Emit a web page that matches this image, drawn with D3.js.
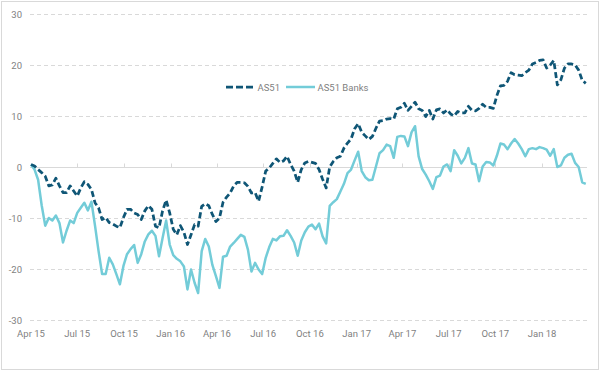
<!DOCTYPE html>
<html><head><meta charset="utf-8">
<script src="https://cdn.jsdelivr.net/npm/d3@7"></script>
<style>
html,body{margin:0;padding:0;background:#fff;}
svg{display:block;font-family:Roboto,"Liberation Sans",sans-serif;}
</style></head>
<body>
<svg id="chart" width="600" height="371"></svg>
<script>
// weekly observations starting 1 Apr 2015 (7-day steps)
const startDate = "2015-04-01";
const stepDays = 7;
const seriesNames = ["AS51", "AS51 Banks"];
const as51 = [
  0.5, 0.2, -0.5, -1.1, -1.8, -3.7, -3.5, -2.2, -3.7, -5.0, -5.0, -3.7, -4.7, -5.7, -4.1, -2.9, -3.4, -4.4, -7.0, -8.0,
  -10.3, -9.9, -10.9, -11.2, -11.6, -11.9, -9.9, -8.3, -8.3, -9.0, -9.3, -10.3, -8.6, -7.6, -8.3, -11.6, -11.9, -8.6, -6.5, -9.0,
  -12.2, -13.3, -11.5, -12.8, -15.2, -13.3, -11.3, -11.6, -7.7, -7.2, -7.6, -9.3, -10.7, -10.0, -6.9, -5.9, -5.1, -3.7, -3.0, -3.0,
  -3.1, -3.8, -5.1, -5.0, -6.7, -3.9, -0.8, -0.2, 0.7, 1.6, 0.9, 1.2, 2.1, 0.5, -0.8, -3.0, -0.5, 0.8, 1.1, 0.9,
  0.7, -0.5, -2.4, -4.1, 0.0, 1.1, 1.8, 2.1, 3.7, 4.7, 5.5, 7.5, 8.5, 6.8, 6.1, 5.4, 6.0, 7.6, 9.0, 9.1,
  9.4, 9.5, 9.4, 11.4, 11.7, 12.5, 11.1, 11.9, 12.7, 11.4, 11.1, 9.9, 11.1, 9.4, 11.2, 11.4, 10.6, 11.2, 10.4, 10.0,
  10.9, 10.6, 10.6, 11.9, 11.1, 11.0, 11.5, 12.3, 11.7, 11.7, 11.5, 14.0, 15.9, 16.0, 16.8, 18.5, 18.1, 18.0, 17.9, 18.5,
  19.0, 20.2, 20.5, 20.9, 21.0, 19.4, 20.0, 20.9, 16.1, 17.1, 19.4, 20.2, 20.2, 20.0, 19.0, 17.0, 16.4
];
const as51Banks = [
  0.5, -0.5, -2.5, -7.5, -11.5, -10.0, -10.5, -9.5, -11.0, -14.8, -12.5, -10.5, -11.0, -9.0, -8.0, -7.0, -8.5, -6.8, -11.5, -16.5,
  -21.0, -21.0, -17.8, -19.1, -21.0, -23.0, -19.4, -17.1, -16.1, -15.3, -18.8, -17.1, -14.6, -13.2, -12.5, -13.5, -17.5, -13.9, -10.5, -15.2,
  -17.3, -18.0, -18.5, -19.5, -24.0, -20.1, -22.7, -24.7, -16.5, -14.1, -15.6, -19.2, -21.4, -23.7, -17.6, -17.4, -15.6, -14.9, -14.1, -13.3,
  -13.7, -16.2, -20.5, -18.8, -20.1, -21.0, -17.8, -15.7, -14.1, -14.4, -13.6, -13.5, -12.4, -13.5, -14.8, -17.4, -14.4, -12.8, -11.7, -11.3,
  -12.2, -11.1, -13.6, -15.0, -7.6, -6.9, -6.3, -4.8, -3.3, -1.2, -0.5, 1.3, 3.0, -0.8, -2.0, -2.6, -2.5, 0.1, 2.7, 3.3,
  4.4, 4.1, 1.8, 5.9, 6.1, 6.0, 4.1, 6.8, 8.0, 2.1, -0.4, -1.5, -2.8, -4.3, -2.0, -1.7, 0.1, 0.5, -0.8, 3.3,
  2.2, 0.7, 1.8, 3.7, 0.7, 0.5, -2.8, 0.1, 1.0, 0.9, 0.3, 2.2, 4.6, 4.4, 3.5, 4.6, 5.5, 4.6, 3.5, 2.1,
  3.5, 3.7, 3.5, 3.9, 3.7, 3.4, 2.2, 3.5, 0.0, 0.3, 1.8, 2.4, 2.6, 0.8, 0.0, -3.0, -3.3
];
const yTicks = [30, 20, 10, 0, -10, -20, -30];
const xTickLabels = ["Apr 15","Jul 15","Oct 15","Jan 16","Apr 16","Jul 16","Oct 16","Jan 17","Apr 17","Jul 17","Oct 17","Jan 18"];

const colors = ["#0f5676", "#73ccd8"];

const svg = d3.select("#chart");
// outer border
svg.append("rect").attr("x",1.5).attr("y",1.5).attr("width",597).attr("height",368)
  .attr("fill","none").attr("stroke","#d9d9d9").attr("stroke-width",1);

const parse = d3.timeParse("%Y-%m-%d");
const t0 = parse(startDate);
const dates = as51.map((_, i) => d3.timeDay.offset(t0, i * stepDays));

const x = d3.scaleTime().domain([t0, parse("2018-04-01")]).range([31, 587.8]);
const y = d3.scaleLinear().domain([-30, 30]).range([320, 14]);

const gridX0 = 30, gridX1 = 587;
// gridlines
svg.append("g").selectAll("line").data(yTicks.filter(v => v !== 0)).join("line")
  .attr("x1", gridX0).attr("x2", gridX1)
  .attr("y1", d => Math.round(y(d)) + 0.5).attr("y2", d => Math.round(y(d)) + 0.5)
  .attr("stroke", "#d9d9d9").attr("stroke-width", 1).attr("stroke-dasharray", "4,3");

// y labels
svg.append("g").selectAll("text").data(yTicks).join("text")
  .attr("x", 22).attr("y", d => y(d) + 3.5)
  .attr("text-anchor", "end").attr("font-size", 9.5).attr("fill", "#7f7f7f")
  .text(d => d);

// x axis at zero
const tickDates = xTickLabels.map(s => d3.timeParse("%b %y")(s));
const zeroY = Math.round(y(0)) + 0.5;
svg.append("line").attr("x1", gridX0).attr("x2", gridX1).attr("y1", zeroY).attr("y2", zeroY)
  .attr("stroke", "#d9d9d9").attr("stroke-width", 1);
svg.append("g").selectAll("line").data(tickDates.slice(1)).join("line")
  .attr("x1", d => Math.round(x(d)) + 0.5).attr("x2", d => Math.round(x(d)) + 0.5)
  .attr("y1", zeroY).attr("y2", zeroY - 4)
  .attr("stroke", "#d9d9d9").attr("stroke-width", 1);
svg.append("g").selectAll("text").data(tickDates).join("text")
  .attr("x", d => x(d)).attr("y", 337)
  .attr("text-anchor", "middle").attr("font-size", 9.5).attr("fill", "#7f7f7f")
  .text((d, i) => xTickLabels[i]);

const line = d3.line().x((d, i) => x(dates[i])).y(d => y(d));

svg.append("path").datum(as51Banks).attr("d", line)
  .attr("fill", "none").attr("stroke", colors[1]).attr("stroke-width", 2.5)
  .attr("stroke-linejoin", "round");
svg.append("path").datum(as51).attr("d", line)
  .attr("fill", "none").attr("stroke", colors[0]).attr("stroke-width", 2.75)
  .attr("stroke-dasharray", "6,3").attr("stroke-linejoin", "round");

// legend
const lg = svg.append("g");
const legendItems = [{name: seriesNames[0], x: 226, dash: "7,3", w: 2.75}, {name: seriesNames[1], x: 286, dash: null, w: 2.5}];
legendItems.forEach((it, i) => {
  const l = lg.append("line").attr("x1", it.x).attr("x2", it.x + 29).attr("y1", 87).attr("y2", 87)
    .attr("stroke", colors[i]).attr("stroke-width", it.w);
  if (it.dash) l.attr("stroke-dasharray", it.dash);
  lg.append("text").attr("x", it.x + 31.5).attr("y", 90.5).attr("font-size", 9.5).attr("fill", "#7f7f7f").text(it.name);
});
</script>
</body></html>
